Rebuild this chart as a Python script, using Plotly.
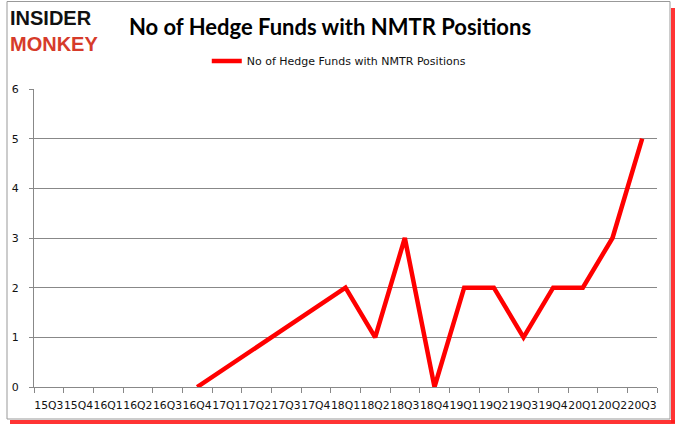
import plotly.graph_objects as go

quarters = ["15Q3", "15Q4", "16Q1", "16Q2", "16Q3", "16Q4", "17Q1", "17Q2", "17Q3", "17Q4",
            "18Q1", "18Q2", "18Q3", "18Q4", "19Q1", "19Q2", "19Q3", "19Q4", "20Q1", "20Q2", "20Q3"]
hedge_funds = [None, None, None, None, None, 0, None, None, None, None,
               2, 1, 3, 0, 2, 2, 1, 2, 2, 3, 5]
series_name = "No of Hedge Funds with NMTR Positions"
y_ticks = [0, 1, 2, 3, 4, 5, 6]

# plot area in pixels: x 34..657, y 89..387
W, H = 678, 431
L, R, T, B = 34, 21, 89, 44
pw, ph = W - L - R, H - T - B


def px(x):
    return (x - L) / pw


def py(y):
    return (H - B - y) / ph


fig = go.Figure()
fig.add_trace(go.Scatter(
    x=quarters, y=hedge_funds, mode="lines", name=series_name,
    connectgaps=True, line=dict(color="#ff0000", width=4.5),
))

fig.update_layout(
    width=W, height=H,
    margin=dict(l=L, r=R, t=T, b=B, autoexpand=False),
    paper_bgcolor="white", plot_bgcolor="white",
    showlegend=True,
    legend=dict(orientation="h", x=px(213) - 0.01, xanchor="left", xref="paper",
                y=py(61), yanchor="middle",
                font=dict(family="DejaVu Sans", size=11, color="#111"),
                bgcolor="rgba(0,0,0,0)"),
    title=dict(text="No of Hedge Funds with NMTR Positions", x=px(330), xref="paper",
               y=1 - 27 / H, yref="container", xanchor="center", yanchor="middle",
               font=dict(family="Lato", size=22, color="#000", weight="bold")),
    font=dict(family="DejaVu Sans", size=11, color="#111"),
)

fig.update_xaxes(
    type="category", categoryorder="array", categoryarray=quarters,
    tickson="boundaries", ticks="outside", ticklen=5, tickcolor="#888",
    showline=True, linecolor="#888", linewidth=1, showgrid=False,
    tickangle=0, automargin=False, ticklabelstandoff=8,
    tickfont=dict(family="DejaVu Sans", size=10.8, color="#111"),
    range=[-0.5, len(quarters) - 0.5],
)
fig.update_yaxes(
    range=[0, 6], tickvals=y_ticks, ticks="outside", ticklen=4, tickcolor="#888",
    showline=True, linecolor="#888", linewidth=1, automargin=False,
    showgrid=True, gridcolor="#888", gridwidth=1, zeroline=False, ticklabelstandoff=8,
    tickfont=dict(family="DejaVu Sans", size=11, color="#111"),
)

# red shadow (right and bottom)
fig.add_shape(type="line", xref="paper", yref="paper", x0=px(673), x1=px(673), y0=py(8), y1=py(423),
              line=dict(color="rgba(255,30,30,0.9)", width=4), layer="above")
fig.add_shape(type="line", xref="paper", yref="paper", x0=px(10), x1=px(675), y0=py(422), y1=py(422),
              line=dict(color="rgba(255,30,30,0.9)", width=4), layer="above")
# grey frame as four lines
frame = dict(color="#999", width=1)
fig.add_shape(type="line", xref="paper", yref="paper", x0=px(7), x1=px(670), y0=py(1.5), y1=py(1.5), line=frame)
fig.add_shape(type="line", xref="paper", yref="paper", x0=px(7), x1=px(670), y0=py(419), y1=py(419), line=frame)
fig.add_shape(type="line", xref="paper", yref="paper", x0=px(7), x1=px(7), y0=py(1.5), y1=py(419), line=frame)
fig.add_shape(type="line", xref="paper", yref="paper", x0=px(670), x1=px(670), y0=py(1.5), y1=py(419), line=frame)

fig.add_annotation(text="<b>INSIDER</b><br><b><span style='color:#d63b2a'>MONKEY</span></b>",
                   xref="paper", yref="paper", x=px(8), y=py(5),
                   xanchor="left", yanchor="top", align="left", showarrow=False,
                   font=dict(family="Liberation Sans", size=20, color="#111"))

fig.write_html("out.html", config={"displayModeBar": False},
               post_script="document.body.style.margin='0px';")
